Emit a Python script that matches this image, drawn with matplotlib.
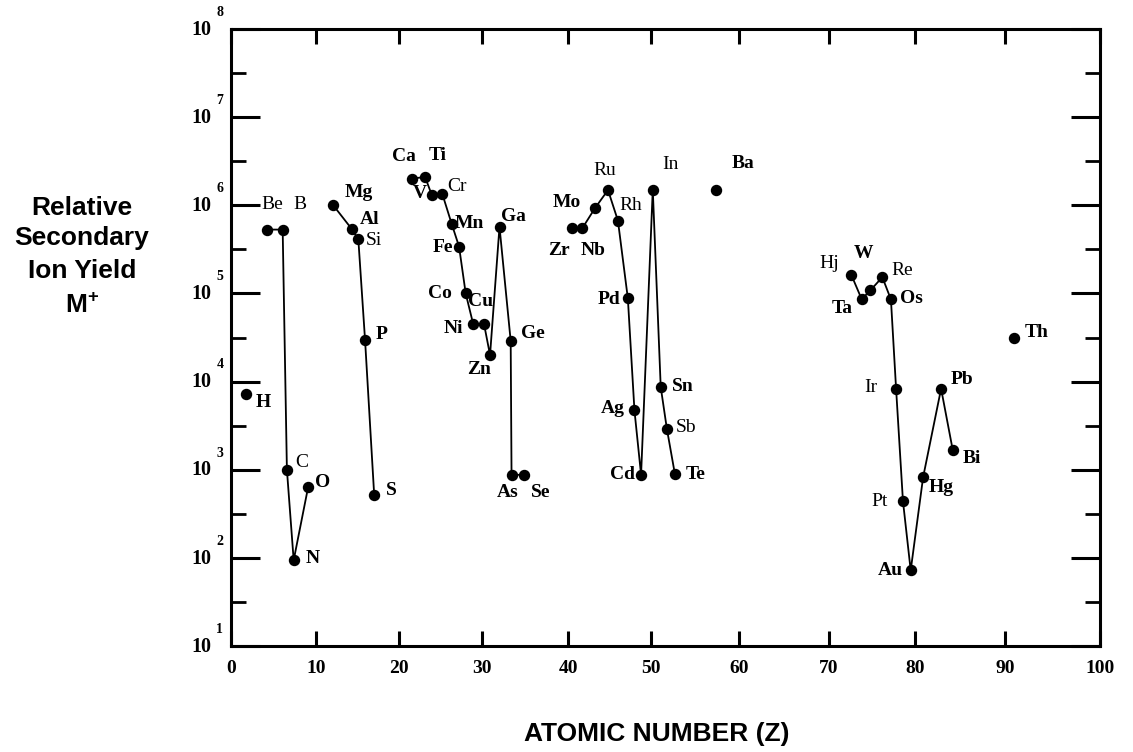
"""
Rendimiento relativo de iones secundarios M+ frente al número atómico (Z)
"""

import numpy as np
import matplotlib.pyplot as plt
import matplotlib.transforms as mtransforms
from matplotlib.ticker import FixedLocator, NullFormatter, NullLocator

plt.rcParams['mathtext.fontset'] = 'custom'
plt.rcParams['mathtext.rm'] = 'Liberation Sans:bold'
plt.rcParams['mathtext.bf'] = 'Liberation Sans:bold'
plt.rcParams['mathtext.it'] = 'Liberation Sans:bold'

# ── Datos ─────────────────────────────────────────────
symbols = ["H", "Be", "B", "C", "N", "O", "Mg", "Al", "Si", "P", "S",
           "Ca", "Ti", "V", "Cr", "Mn", "Fe", "Co", "Ni", "Cu", "Zn", "Ga", "Ge", "As", "Se",
           "Zr", "Nb", "Mo", "Ru", "Rh", "Pd", "Ag", "Cd", "In", "Sn", "Sb", "Te", "Ba",
           "Hj", "Ta", "W", "Re", "Os", "Ir", "Pt", "Au", "Hg", "Pb", "Bi", "Th"]
z_pos = [1.8, 4.3, 6.1, 6.6, 7.4, 9.1, 12.1, 14.3, 15.1, 15.9, 17.0,
         21.5, 23.1, 23.9, 25.2, 26.3, 27.2, 28.0, 28.9, 30.2, 30.9, 32.0, 33.3, 33.4, 34.8,
         40.4, 41.7, 43.2, 44.8, 46.0, 47.2, 48.0, 48.8, 50.2, 51.1, 51.8, 52.7, 57.4,
         72.6, 73.8, 74.8, 76.2, 77.2, 77.8, 78.6, 79.5, 80.9, 82.9, 84.2, 90.9]
ion_yield = [7.2e3, 5.3e5, 5.3e5, 1.0e3, 94, 630, 1.0e6, 5.4e5, 4.1e5, 3.0e4, 510,
             2.0e6, 2.1e6, 1.32e6, 1.33e6, 6.2e5, 3.4e5, 1.0e5, 4.5e4, 4.5e4, 2.0e4, 5.7e5, 2.9e4, 875, 875,
             5.5e5, 5.5e5, 9.2e5, 1.49e6, 6.7e5, 8.8e4, 4.7e3, 875, 1.51e6, 8.7e3, 2.9e3, 900, 1.51e6,
             1.62e5, 8.6e4, 1.08e5, 1.53e5, 8.55e4, 8.3e3, 440, 72, 820, 8.3e3, 1.66e3, 3.1e4]

# Series unidas por líneas
chains = [["Be", "B", "C", "N", "O"],
          ["Mg", "Al", "Si", "P", "S"],
          ["Ca", "Ti", "V", "Cr", "Mn", "Fe", "Co", "Ni", "Cu", "Zn", "Ga", "Ge", "As", "Se"],
          ["Zr", "Nb", "Mo", "Ru", "Rh", "Pd", "Ag", "Cd", "In", "Sn", "Sb", "Te"],
          ["Hj", "Ta", "W", "Re", "Os", "Ir", "Pt", "Au", "Hg", "Pb", "Bi"]]

x_ticks = np.arange(0, 101, 10)
y_exponents = np.arange(1, 9)

# ── Posición de etiquetas (desplazamiento en píxeles: dx, dy hacia abajo) ──
label_offset = {
    "H": (17, 8), "Be": (5, -25), "B": (17, -25), "C": (15, -7), "N": (19, -2), "O": (15, -5),
    "Mg": (26, -13), "Al": (18, -9), "Si": (16, 1), "P": (17, -5), "S": (17, -5),
    "Ca": (-8, -22), "Ti": (13, -21), "V": (-12, -1), "Cr": (15, -8), "Mn": (18, 0),
    "Fe": (-16, 1), "Co": (-26, 0), "Ni": (-20, 5), "Cu": (-3, -22), "Zn": (-11, 14),
    "Ga": (14, -10), "Ge": (22, -7), "As": (-4, 18), "Se": (17, 18),
    "Zr": (-13, 22), "Nb": (11, 22), "Mo": (-28, -6), "Ru": (-3, -20), "Rh": (13, -15),
    "Pd": (-19, 1), "Ag": (-22, -2), "Cd": (-19, 0), "In": (18, -25), "Sn": (22, 0),
    "Sb": (19, -1), "Te": (21, 1), "Ba": (27, -26),
    "Hj": (-22, -11), "Ta": (-19, 9), "W": (-7, -37), "Re": (20, -7), "Os": (21, -1),
    "Ir": (-25, -1), "Pt": (-23, 0), "Au": (-20, 0), "Hg": (18, 10), "Pb": (21, -9),
    "Bi": (19, 8), "Th": (23, -6),
}
regular_labels = {"Be", "B", "C", "Si", "Cr", "Ru", "Rh", "In", "Sb", "Hj", "Re", "Ir", "Pt"}

# Eje X escaneado: las marcas no están equiespaciadas en la imagen original
tick_px = np.array([231, 315.7, 399.3, 482.3, 568.3, 651, 739.3, 829, 915, 1005, 1100])


def fwd(v):
    return np.interp(v, x_ticks, tick_px)


def inv(p):
    return np.interp(p, tick_px, x_ticks)


# ── Figura ─────────────────────────────────────────────
W, H = 1133, 752
fig = plt.figure(figsize=(W / 100, H / 100), dpi=100)
fig.patch.set_facecolor('white')
ax = fig.add_axes([231 / W, 1 - 646 / H, (1100 - 231) / W, (646 - 29) / H])

z_arr = np.array(z_pos)
y_arr = np.array(ion_yield)

for chain in chains:
    idx = [symbols.index(s) for s in chain]
    ax.plot(z_arr[idx], y_arr[idx], color='black', lw=1.3, zorder=2)

ax.plot(z_arr, y_arr, 'o', color='black', markersize=7.2, linestyle='none', zorder=3)

for s, zz, yy in zip(symbols, z_arr, y_arr):
    dx, dy = label_offset[s]
    ax.annotate(s, (zz, yy), xytext=(dx * 0.72, -dy * 0.72), textcoords='offset points',
                ha='center', va='center', fontsize=14, family='Liberation Serif',
                fontweight='normal' if s in regular_labels else 'bold')

ax.set_xscale('function', functions=(fwd, inv))
ax.set_yscale('log')
ax.set_xlim(0, 100)
ax.set_ylim(10, 1e8)

ax.xaxis.set_major_locator(FixedLocator(x_ticks))
ax.xaxis.set_minor_locator(NullLocator())
ax.set_xticklabels([str(t) for t in x_ticks], family='Liberation Serif',
                   fontweight='bold', fontsize=14)
# las cifras del eje X aparecen algo desplazadas a la derecha de sus marcas
shift = mtransforms.ScaledTranslation(6 / 100, 0, fig.dpi_scale_trans)
for lbl in ax.get_xticklabels():
    lbl.set_transform(lbl.get_transform() + shift)

ax.yaxis.set_major_locator(FixedLocator(10.0 ** y_exponents))
ax.yaxis.set_minor_locator(FixedLocator(10.0 ** (y_exponents[:-1] + 0.5)))
ax.yaxis.set_major_formatter(NullFormatter())
ax.yaxis.set_minor_formatter(NullFormatter())

ax.tick_params(axis='x', which='major', direction='in', length=10.8, width=2.2,
               top=True, bottom=True, pad=10)
ax.tick_params(axis='y', which='major', direction='in', length=21, width=2.2,
               left=True, right=True)
ax.tick_params(axis='y', which='minor', direction='in', length=10.8, width=2.0,
               left=True, right=True)
for sp in ax.spines.values():
    sp.set_linewidth(2.2)

# Etiquetas 10^n del eje Y
for k in y_exponents:
    ax.annotate("10", xy=(0, 10.0 ** k), xycoords=('axes fraction', 'data'),
                xytext=(-21.6, -0.5), textcoords='offset points', ha='center', va='center',
                family='Liberation Serif', fontweight='bold', fontsize=14.5,
                annotation_clip=False)
    ax.annotate(str(k), xy=(0, 10.0 ** k), xycoords=('axes fraction', 'data'),
                xytext=(-8, 12), textcoords='offset points', ha='center', va='center',
                family='Liberation Serif', fontweight='bold', fontsize=10,
                annotation_clip=False)

fig.text(656.7 / W, 1 - 734 / H, 'ATOMIC NUMBER (Z)', ha='center', va='center',
         family='Liberation Sans', fontweight='bold', fontsize=19)

ylab_lines = ["Relative", "Secondary", "Ion Yield", r"M$^{+}$"]
ylab_base = [215, 244.5, 278, 313]
for txt, yb in zip(ylab_lines, ylab_base):
    fig.text(82 / W, 1 - yb / H, txt, ha='center', va='baseline',
             family='Liberation Sans', fontweight='bold', fontsize=19)

plt.savefig('out.png', dpi=100, facecolor='white')
